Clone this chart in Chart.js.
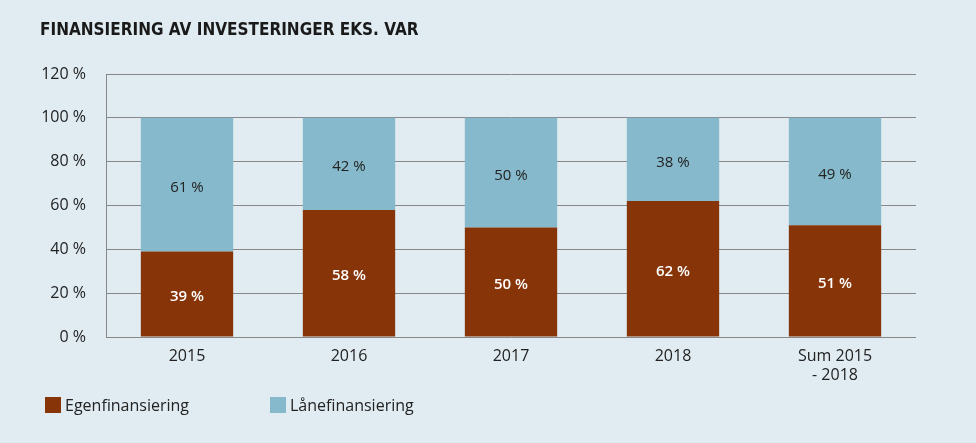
<!DOCTYPE html>
<html><head><meta charset="utf-8">
<script src="https://cdn.jsdelivr.net/npm/chart.js@4"></script>
<style>html,body{margin:0;padding:0;background:#e0ecf2;}canvas{display:block;}</style>
</head><body>
<canvas id="c" width="976" height="443"></canvas>
<script>
const title = 'FINANSIERING AV INVESTERINGER EKS. VAR';
const categories = ['2015', '2016', '2017', '2018', ['Sum 2015', '- 2018']];
const egenfinansiering = [39, 58, 50, 62, 51];
const laanefinansiering = [61, 42, 50, 38, 49];
const seriesNames = ['Egenfinansiering', 'Lånefinansiering'];
const yTicks = [0, 20, 40, 60, 80, 100, 120];

const FONT = "'Open Sans', sans-serif";
const COLORS = ['#873508', '#85b9cb'];
const LABEL_COLORS = ['#ffffff', '#222222'];

const customPlugin = {
  id: 'custom',
  afterDatasetsDraw(chart) {
    const ctx = chart.ctx;
    ctx.save();
    ctx.textAlign = 'center';
    ctx.textBaseline = 'middle';
    chart.data.datasets.forEach((ds, di) => {
      const meta = chart.getDatasetMeta(di);
      meta.data.forEach((bar, i) => {
        const v = ds.data[i];
        const yc = (bar.y + bar.base) / 2 + 3;
        ctx.fillStyle = LABEL_COLORS[di];
        ctx.font = (di === 0 ? '600 ' : '400 ') + '15px ' + FONT;
        ctx.fillText(v + ' %', bar.x, yc);
      });
    });
    ctx.restore();
  },
  afterDraw(chart) {
    const ctx = chart.ctx;
    ctx.save();
    ctx.fillStyle = '#1a1a1a';
    ctx.font = "bold 17px 'DejaVu Sans Condensed', sans-serif";
    ctx.textAlign = 'left';
    ctx.textBaseline = 'middle';
    ctx.fillText(title, 40, 31);
    const items = [{x: 45, c: COLORS[0], t: seriesNames[0]}, {x: 270, c: COLORS[1], t: seriesNames[1]}];
    ctx.font = '16px ' + FONT;
    items.forEach(it => {
      ctx.fillStyle = it.c;
      ctx.fillRect(it.x, 397, 16, 16);
      ctx.fillStyle = '#222';
      ctx.fillText(it.t, it.x + 20, 406);
    });
    ctx.restore();
  }
};

new Chart(document.getElementById('c'), {
  type: 'bar',
  data: {
    labels: categories,
    datasets: [
      {label: seriesNames[0], data: egenfinansiering, backgroundColor: COLORS[0], borderWidth: 0, categoryPercentage: 0.57, barPercentage: 1},
      {label: seriesNames[1], data: laanefinansiering, backgroundColor: COLORS[1], borderWidth: 0, categoryPercentage: 0.57, barPercentage: 1}
    ]
  },
  options: {
    responsive: false,
    animation: false,
    devicePixelRatio: 1,
    layout: {padding: {left: 40, right: 60, top: 74, bottom: 0}},
    plugins: {legend: {display: false}, title: {display: false}, tooltip: {enabled: false}},
    scales: {
      x: {
        stacked: true,
        grid: {display: false, drawTicks: false},
        border: {display: false},
        ticks: {color: '#222', font: {family: FONT, size: 16}, padding: 10, maxRotation: 0},
        afterFit(s) { s.height = 106; }
      },
      y: {
        stacked: true,
        min: 0, max: 120,
        afterBuildTicks(s) { s.ticks = yTicks.map(v => ({value: v})); },
        grid: {color: '#888', lineWidth: 1, drawTicks: false},
        border: {display: true, color: '#888', width: 1},
        ticks: {color: '#222', font: {family: FONT, size: 16}, padding: 20, callback: v => v + ' %'},
        afterFit(s) { s.width = 66; }
      }
    }
  },
  plugins: [customPlugin]
});
</script>
</body></html>
